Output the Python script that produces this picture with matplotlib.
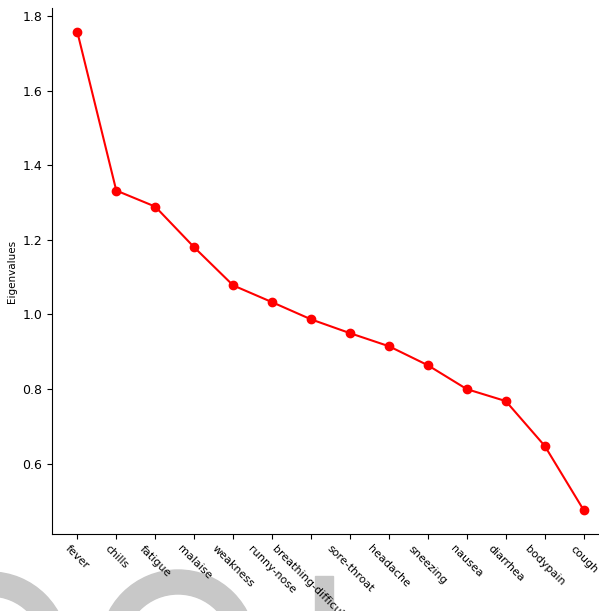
import matplotlib.pyplot as plt
from matplotlib.patches import Rectangle, Wedge
from matplotlib.transforms import IdentityTransform

# Data
symptoms = ["fever", "chills", "fatigue", "malaise", "weakness", "runny-nose",
            "breathing-difficulty", "sore-throat", "headache", "sneezing",
            "nausea", "diarrhea", "bodypain", "cough"]
eigenvalues = [1.757, 1.332, 1.289, 1.180, 1.078, 1.033, 0.987,
               0.950, 0.915, 0.864, 0.800, 0.768, 0.648, 0.476]

W, H = 599, 611
fig = plt.figure(figsize=(W / 100, H / 100), dpi=100)

# faded watermark shapes at the bottom (pixel coords)
wm = "#c8c8c8"
px = IdentityTransform()
fig.patches.append(Wedge((-10, H - 650), 78, 0, 360, width=24,
                         transform=px, color=wm, zorder=0))
fig.patches.append(Wedge((178, H - 648), 78, 0, 360, width=24,
                         transform=px, color=wm, zorder=0))
fig.patches.append(Rectangle((315, 0), 18, H - 576,
                             transform=px, color=wm, zorder=0))

ax = fig.add_axes([52 / W, 1 - 534 / H, 557 / W, 526 / H])
ax.set_zorder(2)
ax.patch.set_alpha(0)
ax.plot(symptoms, eigenvalues, "o-", color="red", linewidth=1.5, markersize=6)
ax.set_ylabel("Eigenvalues", fontsize=7.5)
ax.spines["top"].set_visible(False)
ax.spines["right"].set_visible(False)
ax.tick_params(axis="y", labelsize=9)
ax.tick_params(axis="x", labelsize=8)
plt.setp(ax.get_xticklabels(), rotation=-45, ha="center")

fig.savefig("out.png", dpi=100)
